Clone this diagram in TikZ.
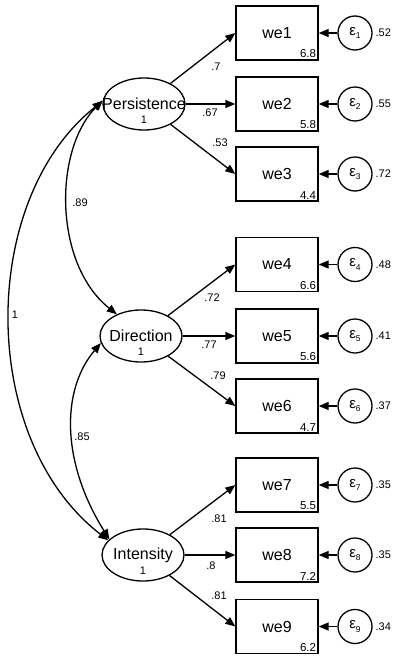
\documentclass[tikz,border=0pt]{standalone}
\usepackage{fontspec}
\setmainfont{Liberation Sans}
\usetikzlibrary{shapes.geometric,arrows.meta}
\newcommand{\epsl}[1]{{\fontsize{15}{15}\selectfont ε}\raisebox{-3.5pt}{\fontsize{8.5}{8.5}\selectfont #1}}
\begin{document}
\begin{tikzpicture}[x=1pt,y=-1pt, line width=1.3pt,
 lat/.style={draw, ellipse, minimum width=82pt, minimum height=52pt, inner sep=0pt},
 lname/.style={font=\fontsize{16}{16}\selectfont, inner sep=0pt},
 obs/.style={draw, rectangle, minimum width=82pt, minimum height=54pt, inner sep=0pt, font=\fontsize{16}{16}\selectfont},
 err/.style={draw, circle, minimum size=34pt, inner sep=0pt},
 num/.style={font=\fontsize{11}{11}\selectfont, inner sep=0pt},
 icpt/.style={font=\fontsize{11.5}{11.5}\selectfont, inner sep=2pt, anchor=south east},
 arr/.style={-{Triangle[length=10pt,width=8pt]}},
 darr/.style={{Triangle[length=10pt,width=8pt]}-{Triangle[length=10pt,width=8pt]}},
]
\useasboundingbox (0,0) rectangle (398,656);

% latent variables
\node[lat] (P) at (144,104) {};
\node[lname] (Pn) at (144,104) {Persistence};
\node[num] (Pv) at (144,120) {1};
\node[lat] (D) at (141,336) {};
\node[lname] (Dn) at (141,336) {Direction};
\node[num] (Dv) at (141,352) {1};
\node[lat] (I) at (143,555) {};
\node[lname] (In) at (143,555) {Intensity};
\node[num] (Iv) at (143,571) {1};

% observed variables
\foreach \n/\y/\m/\v in {1/33/6.8/.52, 2/104/5.8/.55, 3/174/4.4/.72,
                         4/264.5/6.6/.48, 5/336/5.6/.41, 6/406/4.7/.37,
                         7/485/5.5/.35, 8/555/7.2/.35, 9/626.5/6.2/.34}{
  \node[obs] (we\n) at (277,\y) {we\n};
  \node[icpt] (m\n) at (we\n.south east) {\m};
  \node[err] (e\n) at (355,\y) {\epsl{\n}};
  \node[num, anchor=west] (v\n) at (375,\y) {\v};
  \draw[arr] (e\n) -- (we\n.east);
}

% loadings
\draw[arr] (P) -- (we1.west);
\draw[arr] (P) -- (we2.west);
\draw[arr] (P) -- (we3.west);
\draw[arr] (D) -- (we4.west);
\draw[arr] (D) -- (we5.west);
\draw[arr] (D) -- (we6.west);
\draw[arr] (I) -- (we7.west);
\draw[arr] (I) -- (we8.west);
\draw[arr] (I) -- (we9.west);

\node[num] (l1) at (216,67) {.7};
\node[num] (l2) at (210,113) {.67};
\node[num] (l3) at (220,143) {.53};
\node[num] (l4) at (212,298) {.72};
\node[num] (l5) at (209,345) {.77};
\node[num] (l6) at (218,376) {.79};
\node[num] (l7) at (219,519) {.81};
\node[num] (l8) at (211,566) {.8};
\node[num] (l9) at (219,596) {.81};

% covariances
\draw[darr] (P.175) .. controls (53.5,150) and (53.5,264) .. (D.138);
\draw[darr] (D.190) .. controls (61,390) and (61,462) .. (I.155);
\draw[darr] (P.176) .. controls (-22,200) and (-22,440) .. (I.157);

\node[num] (c1) at (80,203) {.89};
\node[num] (c2) at (82,437) {.85};
\node[num] (c3) at (15,315) {1};
\end{tikzpicture}
\end{document}
